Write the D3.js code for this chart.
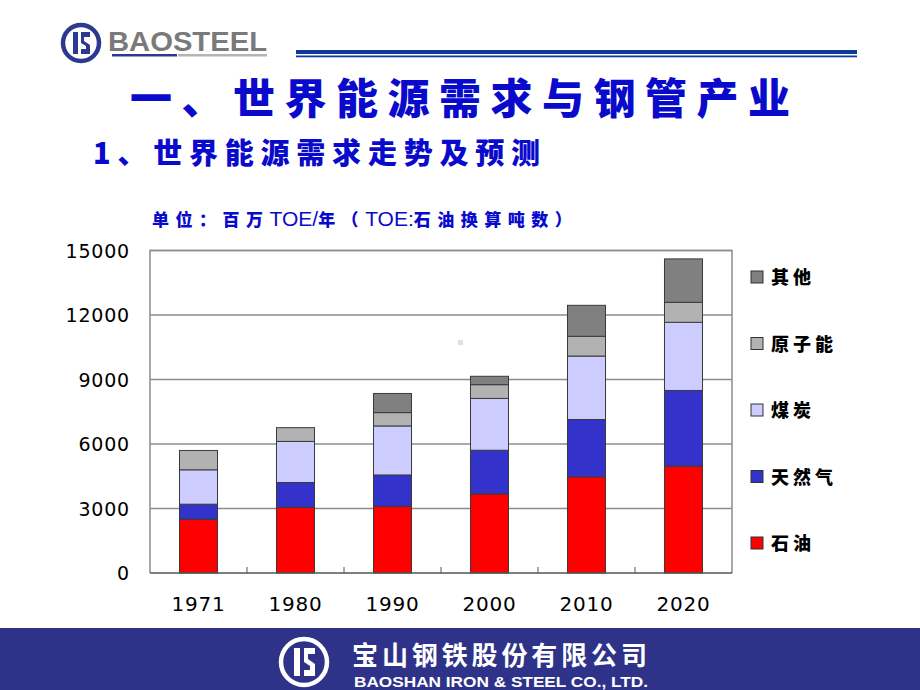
<!DOCTYPE html>
<html>
<head>
<meta charset="utf-8">
<script src="https://cdn.jsdelivr.net/npm/d3@7"></script>
<style>
  html, body { margin: 0; padding: 0; background: #fff; }
  svg { display: block; }
</style>
</head>
<body>
<svg id="chart" width="920" height="690"></svg>
<script>
// chart data (million TOE / year)
const years = ["1971", "1980", "1990", "2000", "2010", "2020"];
const oil = [2500, 3050, 3100, 3680, 4470, 4970];
const gas = [700, 1160, 1460, 2030, 2670, 3520];
const coal = [1600, 1910, 2280, 2410, 2950, 3170];
const nuclear = [900, 640, 620, 640, 920, 930];
const other = [0, 0, 890, 390, 1440, 2020];

const seriesKeys = ["oil", "gas", "coal", "nuclear", "other"];
const seriesNames = { oil: "石油", gas: "天然气", coal: "煤炭", nuclear: "原子能", other: "其他" };
const seriesColors = { oil: "#ff0000", gas: "#3333cc", coal: "#ccccff", nuclear: "#b2b2b2", other: "#808080" };
const yTicks = [0, 3000, 6000, 9000, 12000, 15000];

const svg = d3.select("#chart");
const blue = "#0a0acc";
const cjk = "'Noto Sans CJK SC', sans-serif";
const latin = "'Liberation Sans', Arial, sans-serif";

// ---- header: logo + rule
const logo = svg.append("g").attr("transform", "translate(81,43)");
logo.append("circle").attr("r", 18).attr("fill", "none").attr("stroke", "#2b3a8f").attr("stroke-width", 4.5);
logo.append("path")
    .attr("d", "M-8,-11 L-3,-11 L-3,11 L-8,11 Z M0,-11 L9,-11 L9,-6 L3,-6 L3,-2 L9,2 L9,11 L0,11 L0,6 L5,6 L5,3 L0,0 Z")
    .attr("fill", "#2b3a8f");
svg.append("text")
    .attr("x", 108).attr("y", 51)
    .attr("font-family", "'Liberation Sans Narrow', 'Liberation Sans', sans-serif")
    .attr("font-weight", "bold").attr("font-size", 28)
    .attr("textLength", 159).attr("lengthAdjust", "spacingAndGlyphs")
    .attr("fill", "#7a7a7a")
    .text("BAOSTEEL");
svg.append("rect").attr("x", 112).attr("y", 54).attr("width", 65).attr("height", 2.5).attr("fill", "#2b3a8f");
svg.append("rect").attr("x", 178).attr("y", 54).attr("width", 89).attr("height", 2.5).attr("fill", "#b5b5b5");
svg.append("rect").attr("x", 296).attr("y", 50).attr("width", 561).attr("height", 4).attr("fill", "#0b3a9b");
svg.append("rect").attr("x", 296).attr("y", 55.5).attr("width", 561).attr("height", 1.8).attr("fill", "#0b3a9b");

// ---- titles
svg.append("text")
    .attr("x", 130).attr("y", 114)
    .attr("font-family", cjk).attr("font-weight", 900).attr("font-size", 42)
    .attr("textLength", 660).attr("lengthAdjust", "spacing")
    .attr("fill", blue)
    .text("一、世界能源需求与钢管产业");
svg.append("text")
    .attr("x", 93).attr("y", 164)
    .attr("font-family", cjk).attr("font-weight", 900).attr("font-size", 29)
    .attr("textLength", 447).attr("lengthAdjust", "spacing")
    .attr("fill", blue)
    .text("1、世界能源需求走势及预测");

// unit line: CJK spaced out, Latin kept tight
const unitParts = [
    ["单位：百万", true], ["TOE/", false], ["年（", true],
    ["TOE:", false], ["石油换算吨数）", true]
];
const unit = svg.append("text")
    .attr("x", 152).attr("y", 226)
    .attr("fill", blue);
unitParts.forEach(([t, isCjk]) => {
    unit.append("tspan")
        .attr("font-family", isCjk ? cjk : latin)
        .attr("font-weight", isCjk ? 900 : "normal")
        .attr("font-size", isCjk ? 17 : 21)
        .attr("letter-spacing", isCjk ? 6.5 : 0)
        .text(t);
});

// ---- chart
const plot = { left: 150, right: 732, top: 250.5, bottom: 573 };

const x = d3.scaleBand()
    .domain(years)
    .range([plot.left, plot.right])
    .paddingInner(0.608)
    .paddingOuter(0.304);

const y = d3.scaleLinear()
    .domain([0, 15000])
    .range([plot.bottom, plot.top]);

const table = years.map((yr, i) => ({
    year: yr, oil: oil[i], gas: gas[i], coal: coal[i], nuclear: nuclear[i], other: other[i]
}));
const stacked = d3.stack().keys(seriesKeys)(table);

// gridlines
svg.append("g")
    .selectAll("line")
    .data(yTicks.filter(d => d > 0))
    .enter().append("line")
    .attr("x1", plot.left).attr("x2", plot.right)
    .attr("y1", d => y(d)).attr("y2", d => y(d))
    .attr("stroke", "#8c8c8c").attr("stroke-width", 1.5);

// frame
svg.append("path")
    .attr("d", `M${plot.left},${plot.bottom}V${plot.top}H${plot.right}V${plot.bottom}`)
    .attr("fill", "none").attr("stroke", "#8c8c8c").attr("stroke-width", 1.5);

// y axis labels
svg.append("g")
    .selectAll("text")
    .data(yTicks)
    .enter().append("text")
    .attr("x", 130).attr("y", d => y(d) + 7)
    .attr("text-anchor", "end")
    .attr("font-family", "'DejaVu Sans', sans-serif").attr("font-size", 19)
    .attr("letter-spacing", 0.8)
    .attr("fill", "#000")
    .text(d => d);

// stray mark in the plot area
svg.append("rect").attr("x", 458).attr("y", 340).attr("width", 5).attr("height", 5).attr("fill", "#e0e0e0");

// bars
svg.append("g")
    .selectAll("g")
    .data(stacked)
    .enter().append("g")
    .attr("fill", d => seriesColors[d.key])
    .selectAll("rect")
    .data(d => d.filter(s => s[1] - s[0] > 0))
    .enter().append("rect")
    .attr("x", d => x(d.data.year))
    .attr("width", x.bandwidth())
    .attr("y", d => y(d[1]))
    .attr("height", d => y(d[0]) - y(d[1]))
    .attr("stroke", "#3a3a3a").attr("stroke-width", 1);

// x axis line + inner ticks at category boundaries
svg.append("line")
    .attr("x1", plot.left).attr("x2", plot.right)
    .attr("y1", plot.bottom).attr("y2", plot.bottom)
    .attr("stroke", "#555").attr("stroke-width", 1.5);
svg.append("g")
    .selectAll("line")
    .data(years.slice(1))
    .enter().append("line")
    .attr("x1", d => x(d) - x.step() * x.paddingInner() / 2)
    .attr("x2", d => x(d) - x.step() * x.paddingInner() / 2)
    .attr("y1", plot.bottom).attr("y2", plot.bottom - 6)
    .attr("stroke", "#555").attr("stroke-width", 1);

svg.append("g")
    .selectAll("text")
    .data(years)
    .enter().append("text")
    .attr("x", d => x(d) + x.bandwidth() / 2)
    .attr("y", 611)
    .attr("text-anchor", "middle")
    .attr("font-family", "'DejaVu Sans', sans-serif").attr("font-size", 20)
    .attr("letter-spacing", 0.8)
    .attr("fill", "#000")
    .text(d => d);

// legend
const legendKeys = seriesKeys.slice().reverse();
const legend = svg.append("g")
    .selectAll("g")
    .data(legendKeys)
    .enter().append("g")
    .attr("transform", (d, i) => `translate(751,${277 + i * 66.5})`);
legend.append("rect")
    .attr("x", 0).attr("y", -6).attr("width", 12).attr("height", 12)
    .attr("fill", d => seriesColors[d])
    .attr("stroke", "#333").attr("stroke-width", 1);
legend.append("text")
    .attr("x", 20).attr("y", 7)
    .attr("font-family", cjk).attr("font-weight", 900).attr("font-size", 18)
    .attr("letter-spacing", 4)
    .attr("fill", "#000")
    .text(d => seriesNames[d]);

// ---- footer band
svg.append("rect").attr("x", 0).attr("y", 628).attr("width", 920).attr("height", 62).attr("fill", "#2e3389");
const flogo = svg.append("g").attr("transform", "translate(304,662)");
flogo.append("circle").attr("r", 23).attr("fill", "none").attr("stroke", "#fff").attr("stroke-width", 4.5);
flogo.append("path")
    .attr("d", "M-10,-14 L-4,-14 L-4,14 L-10,14 Z M0,-14 L11,-14 L11,-8 L4,-8 L4,-3 L11,2 L11,14 L0,14 L0,8 L6,8 L6,4 L0,0 Z")
    .attr("fill", "#fff");
svg.append("text")
    .attr("x", 352).attr("y", 665)
    .attr("font-family", cjk).attr("font-weight", "bold").attr("font-size", 26)
    .attr("textLength", 295).attr("lengthAdjust", "spacing")
    .attr("fill", "#fff")
    .text("宝山钢铁股份有限公司");
svg.append("text")
    .attr("x", 354).attr("y", 687)
    .attr("font-family", "'Liberation Sans Narrow', 'Liberation Sans', sans-serif")
    .attr("font-weight", "bold").attr("font-size", 15)
    .attr("textLength", 294).attr("lengthAdjust", "spacingAndGlyphs")
    .attr("fill", "#fff")
    .text("BAOSHAN IRON & STEEL CO., LTD.");
</script>
</body>
</html>
